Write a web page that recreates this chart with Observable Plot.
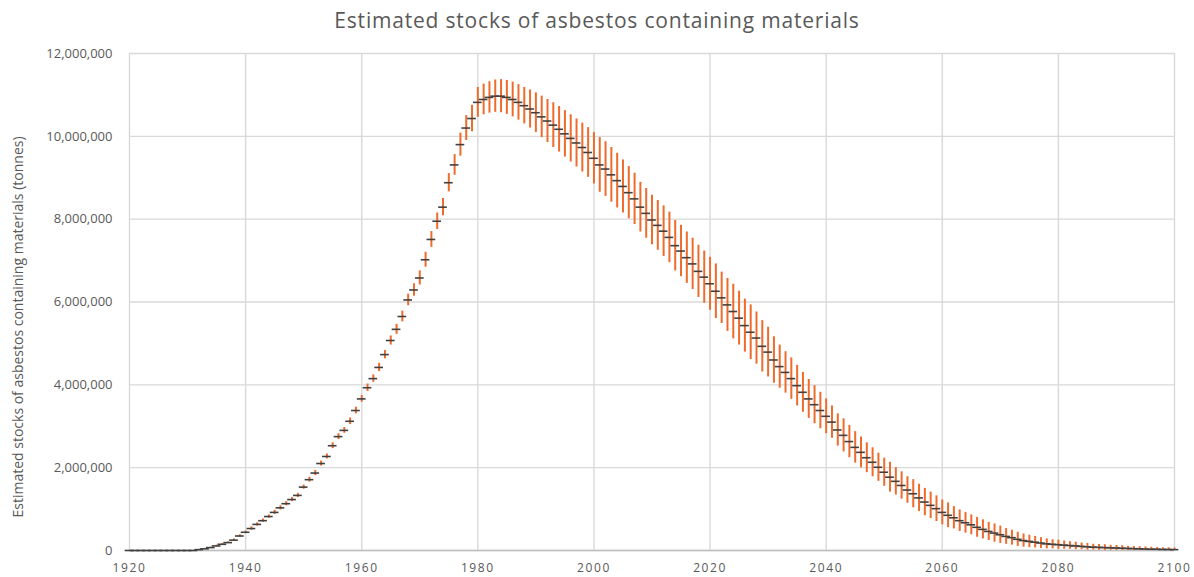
<!DOCTYPE html>
<html>
<head>
<meta charset="utf-8">
<script src="https://cdn.jsdelivr.net/npm/d3@7"></script>
<script src="https://cdn.jsdelivr.net/npm/@observablehq/plot@0.6"></script>
<style>
  html, body { margin: 0; padding: 0; background: #fff; }
  #wrap { width: 1194px; height: 577px; position: relative; overflow: hidden; }
  #title { height: 40px; line-height: 40px; text-align: center; font-family: "Open Sans", sans-serif; font-size: 21px; letter-spacing: 0.8px; color: #595959; }
  svg { display: block; }
  .xax text { letter-spacing: 1.6px; }
</style>
</head>
<body>
<div id="wrap">
  <div id="title">Estimated stocks of asbestos containing materials</div>
  <div id="chart"></div>
</div>
<script>
const firstYear = 1920;
// central estimate, million tonnes, one per year 1920..2100
const stockMillions = [
  0,0,0,0,0,0,0,0,0,0,
  0,0,0.02,0.04,0.07,0.11,0.15,0.19,0.25,0.35,
  0.44,0.53,0.63,0.72,0.82,0.92,1.03,1.13,1.23,1.33,
  1.53,1.71,1.87,2.10,2.27,2.53,2.75,2.90,3.12,3.38,
  3.66,3.93,4.15,4.42,4.73,5.07,5.34,5.65,6.05,6.29,
  6.58,7.02,7.51,7.95,8.29,8.88,9.31,9.80,10.20,10.43,
  10.82,10.89,10.94,10.97,10.97,10.94,10.89,10.82,10.74,10.66,
  10.57,10.47,10.37,10.27,10.17,10.06,9.95,9.84,9.73,9.61,
  9.47,9.31,9.21,9.07,8.93,8.79,8.64,8.49,8.29,8.14,
  7.98,7.85,7.71,7.56,7.36,7.23,7.07,6.92,6.74,6.60,
  6.44,6.26,6.10,5.93,5.77,5.61,5.43,5.27,5.13,4.93,
  4.79,4.60,4.44,4.30,4.15,3.98,3.82,3.66,3.52,3.38,
  3.24,3.10,2.91,2.78,2.63,2.49,2.37,2.24,2.13,2.01,
  1.89,1.77,1.67,1.57,1.46,1.37,1.27,1.17,1.09,1.01,
  0.92,0.85,0.79,0.72,0.67,0.62,0.56,0.51,0.46,0.42,
  0.38,0.34,0.31,0.27,0.24,0.22,0.20,0.18,0.16,0.15,
  0.14,0.13,0.12,0.11,0.10,0.09,0.08,0.075,0.07,0.065,
  0.06,0.055,0.05,0.045,0.04,0.035,0.03,0.03,0.025,0.025,
  0.02
];
// uncertainty half-range, million tonnes, one per year 1920..2100
const spreadMillions = [
  0,0,0,0,0,0,0,0,0,0,
  0,0,0.01,0.01,0.01,0.02,0.02,0.02,0.03,0.03,
  0.03,0.04,0.04,0.04,0.04,0.05,0.05,0.05,0.05,0.05,
  0.05,0.06,0.06,0.06,0.06,0.07,0.07,0.07,0.08,0.08,
  0.08,0.09,0.09,0.10,0.10,0.11,0.12,0.13,0.14,0.15,
  0.17,0.18,0.19,0.20,0.21,0.22,0.25,0.28,0.30,0.32,
  0.36,0.37,0.38,0.39,0.40,0.41,0.42,0.43,0.44,0.46,
  0.48,0.50,0.52,0.54,0.55,0.56,0.57,0.58,0.59,0.60,
  0.62,0.66,0.66,0.66,0.66,0.64,0.63,0.62,0.60,0.60,
  0.60,0.60,0.61,0.61,0.61,0.62,0.62,0.62,0.63,0.63,
  0.64,0.66,0.62,0.64,0.66,0.65,0.64,0.66,0.63,0.62,
  0.60,0.56,0.52,0.50,0.50,0.49,0.48,0.47,0.46,0.44,
  0.42,0.39,0.39,0.40,0.39,0.38,0.37,0.36,0.35,0.34,
  0.34,0.36,0.33,0.33,0.32,0.34,0.33,0.33,0.32,0.31,
  0.30,0.30,0.27,0.26,0.25,0.24,0.24,0.23,0.22,0.22,
  0.21,0.19,0.18,0.17,0.16,0.15,0.14,0.13,0.12,0.11,
  0.11,0.10,0.09,0.09,0.08,0.08,0.07,0.07,0.07,0.06,
  0.06,0.06,0.05,0.05,0.05,0.05,0.05,0.04,0.04,0.04,
  0.04
];
const xTicks = [1920,1940,1960,1980,2000,2020,2040,2060,2080,2100];
const yTicks = [0,2000000,4000000,6000000,8000000,10000000,12000000];
const yTitle = "Estimated stocks of asbestos containing materials (tonnes)";

const data = stockMillions.map((v, i) => ({
  year: firstYear + i,
  value: v * 1e6,
  lo: Math.max(0, (v - spreadMillions[i]) * 1e6),
  hi: (v + spreadMillions[i]) * 1e6
}));

const chart = Plot.plot({
  width: 1194,
  height: 537,
  marginLeft: 129,
  marginRight: 20,
  marginTop: 13,
  marginBottom: 27,
  style: { fontFamily: "Open Sans, sans-serif", fontSize: "13px", color: "#595959", background: "#fff" },
  x: { domain: [1920, 2100] },
  y: { domain: [0, 12000000] },
  marks: [
    Plot.gridX(xTicks, { stroke: "#d9d9d9", strokeOpacity: 1, strokeWidth: 1.4 }),
    Plot.gridY(yTicks, { stroke: "#d9d9d9", strokeOpacity: 1, strokeWidth: 1.4 }),
    Plot.ruleY([0], { stroke: "#bfbfbf", strokeWidth: 1.5 }),
    Plot.axisX(xTicks, { tickSize: 0, tickPadding: 13, fontSize: 12, tickFormat: d3.format("d"), label: null, fill: "#595959", className: "xax" }),
    Plot.axisY(yTicks, { tickSize: 0, tickPadding: 17, tickFormat: d3.format(","), label: null, fill: "#595959" }),
    Plot.text([yTitle], { text: d => d, frameAnchor: "left", dx: -111, dy: 25, rotate: -90, fontSize: 14, fill: "#595959", textAnchor: "middle" }),
    Plot.ruleX(data.filter(d => d.hi > d.lo), { x: "year", y1: "lo", y2: "hi", stroke: "#ee6b2c", strokeWidth: 2 }),
    Plot.ruleY(data, { y: "value", x1: d => d.year - 0.75, x2: d => d.year + 0.75, stroke: "#404040", strokeWidth: 1.6 })
  ]
});
document.getElementById("chart").appendChild(chart);
</script>
</body>
</html>
